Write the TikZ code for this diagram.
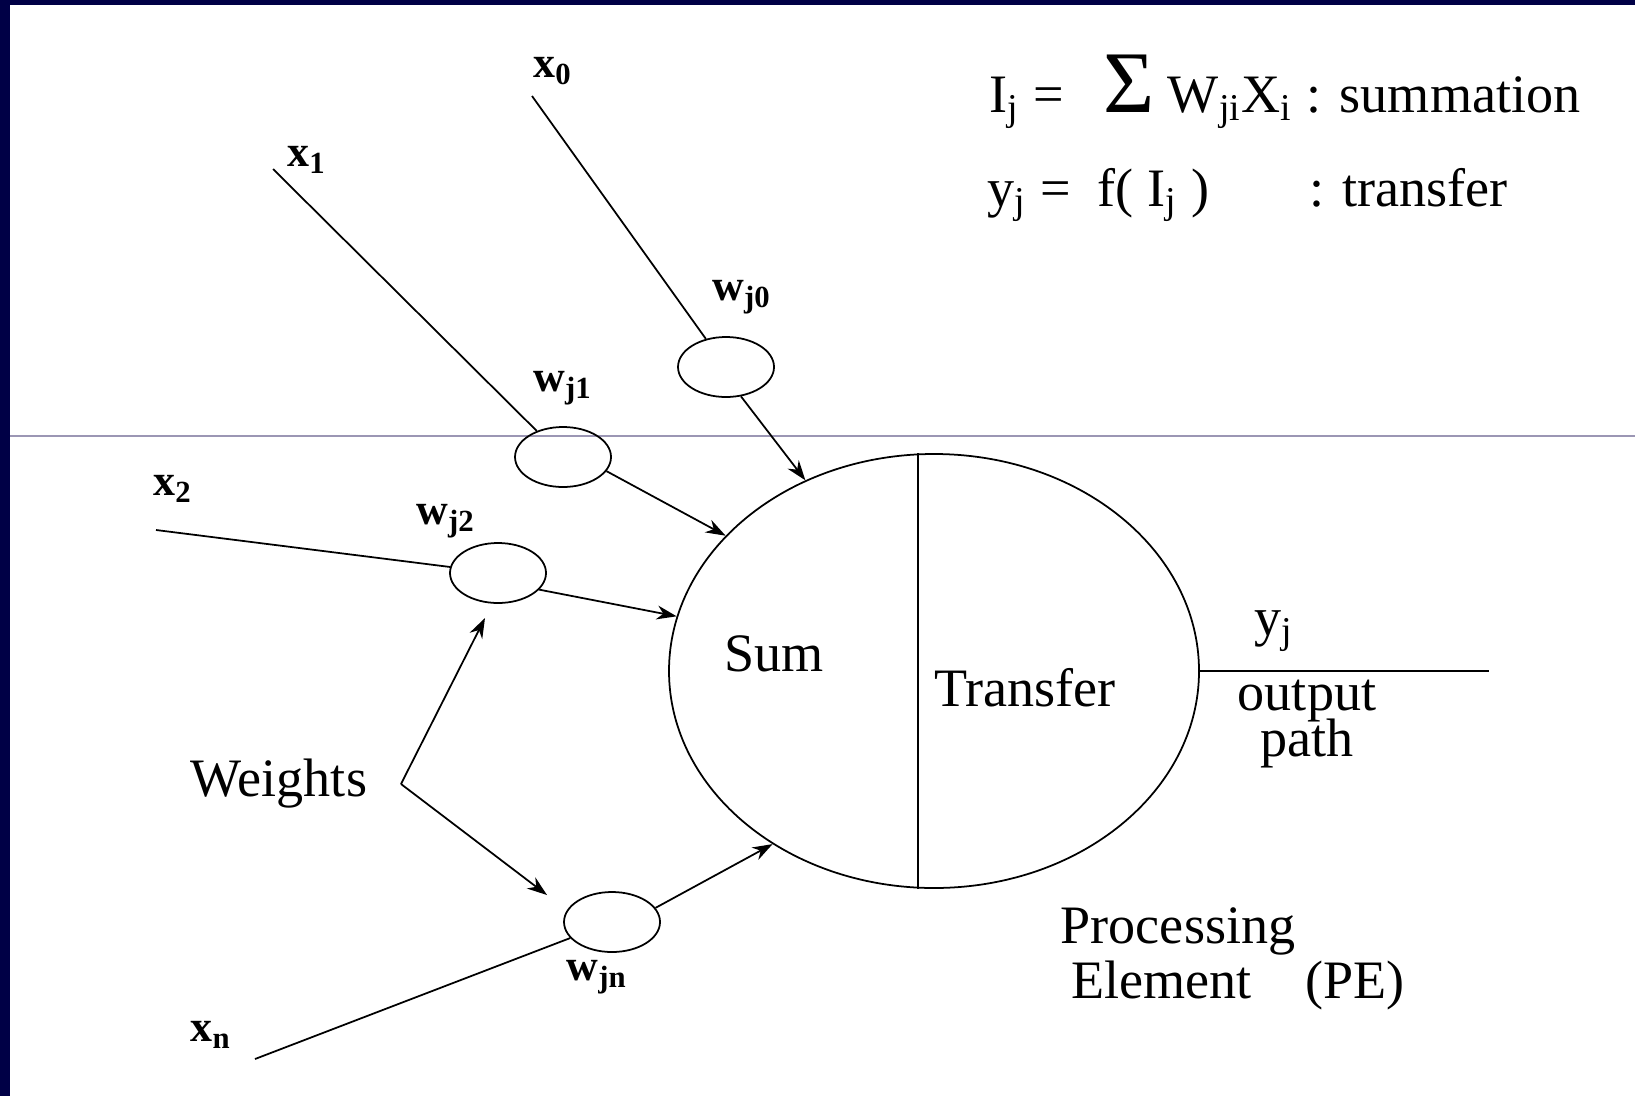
\documentclass[tikz,border=0pt]{standalone}
\usepackage{fontspec}
\setmainfont{Liberation Serif}
\usetikzlibrary{shapes.geometric,arrows.meta,calc}

\definecolor{slidenavy}{RGB}{0,0,70}
\definecolor{rulegray}{RGB}{155,150,180}

\tikzset{
  weight/.style={draw, ellipse, minimum width=0.96cm, minimum height=0.6cm, inner sep=0pt},
  inlbl/.style={font=\fontsize{12.5}{14}\selectfont\bfseries, inner sep=1pt},
  bigtxt/.style={font=\fontsize{15.4}{17}\selectfont, inner sep=1pt},
  sig/.style={-{Stealth[length=0.2cm,width=0.14cm]}},
}

\begin{document}
\begin{tikzpicture}[line width=0.5pt]
  \useasboundingbox (0,0) rectangle (16.35,10.96);
  \fill[slidenavy] (0,0) rectangle (0.10,10.96);
  \fill[slidenavy] (0,10.91) rectangle (16.35,10.96);
  \draw[rulegray, line width=0.6pt] (0.10,6.60) -- (16.35,6.60);

  % processing element
  \node[draw, ellipse, minimum width=5.30cm, minimum height=4.34cm] (pe) at (9.34,4.25) {};
  \draw ($(pe.north)+(-0.16,0)$) -- ($(pe.south)+(-0.16,0)$);
  \node[bigtxt] (sum) at (7.74,4.42) {Sum};
  \node[bigtxt] (transfer) at (10.25,4.08) {Transfer};

  % weight ellipses
  \node[weight] (wj0) at (7.26,7.29) {};
  \node[weight] (wj1) at (5.63,6.39) {};
  \node[weight] (wj2) at (4.98,5.23) {};
  \node[weight] (wjn) at (6.12,1.74) {};

  \node[inlbl] (lwj0) at (7.42,7.99) {w\textsubscript{j0}};
  \node[inlbl] (lwj1) at (5.63,7.08) {w\textsubscript{j1}};
  \node[inlbl] (lwj2) at (4.46,5.75) {w\textsubscript{j2}};
  \node[inlbl] (lwjn) at (5.97,1.19) {w\textsubscript{jn}};

  % inputs
  \node[inlbl] (lx0) at (5.53,10.25) {x\textsubscript{0}};
  \node[inlbl] (lx1) at (3.07,9.36) {x\textsubscript{1}};
  \node[inlbl] (lx2) at (1.73,6.07) {x\textsubscript{2}};
  \node[inlbl] (lxn) at (2.11,0.61) {x\textsubscript{n}};
  \coordinate (cx0) at (5.32,10.00);
  \coordinate (cx1) at (2.73,9.27);
  \coordinate (cx2) at (1.56,5.66);
  \coordinate (cxn) at (2.55,0.37);

  \draw (cx0) -- (wj0);
  \draw (cx1) -- (wj1);
  \draw (cx2) -- (wj2);
  \draw (cxn) -- (wjn);

  \draw[sig] (wj0.-63) -- (pe.124);
  \draw[sig] (wj1.-18) -- (pe.147);
  \draw[sig] (wj2.-22) -- (pe.168);
  \draw[sig] (wjn.18) -- (pe.227);

  % weights pointer
  \node[bigtxt] (weights) at (2.79,3.12) {Weights};
  \coordinate (wv) at (4.01,3.12);
  \coordinate (wup) at (4.85,4.78);
  \coordinate (wdn) at (5.47,2.01);
  \draw[sig] (wv) -- (wup);
  \draw[sig] (wv) -- (wdn);

  % output
  \coordinate (yout) at (14.89,4.25);
  \draw (pe.east) -- (yout);
  \node[bigtxt] (yj) at (12.74,4.65) {y\textsubscript{j}};
  \node[bigtxt, align=center] (outp) at (13.07,3.72) {output\\[-4pt]path};

  \node[bigtxt] (proc) at (11.78,1.65) {Processing};
  \node[bigtxt] (elem) at (12.38,1.11) {Element\quad(PE)};

  % formulas
  \node[bigtxt, anchor=base west] (eqsum) at (9.85,9.83)
    {I\textsubscript{j} = \hspace{0.26cm}{\fontsize{25}{25}\selectfont Σ} W\textsubscript{ji}X\textsubscript{i} : summation};
  \node[bigtxt, anchor=base west] (eqtrans) at (9.83,8.90)
    {y\textsubscript{j} = \ f( I\textsubscript{j} )\hspace{1.0cm}: transfer};
\end{tikzpicture}
\end{document}
